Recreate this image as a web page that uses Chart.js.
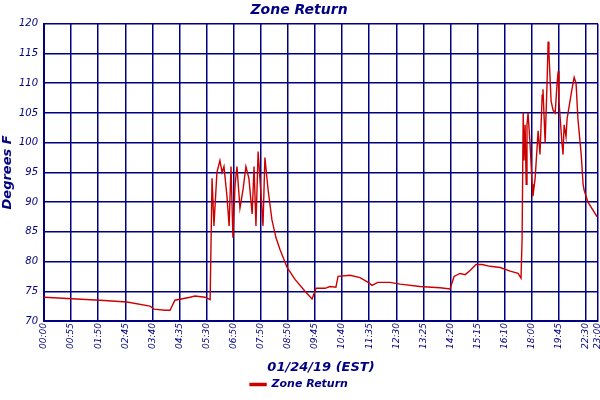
<!DOCTYPE html>
<html><head><meta charset="utf-8">
<script src="https://cdn.jsdelivr.net/npm/chart.js@4/dist/chart.umd.min.js"></script>
<style>body{margin:0;background:#fff}#w{width:600px;height:400px}</style>
</head><body><div id="w"><canvas id="c"></canvas></div>
<script>
const tickLabels=["00:00","00:55","01:50","02:45","03:40","04:35","05:30","06:50","07:50","08:50","09:45","10:40","11:35","12:30","13:25","14:20","15:15","16:10","18:00","19:45","22:30","23:00"];
const tickPos=[0,1,2,3,4,5,6,7,8,9,10,11,12,13,14,15,16,17,18,19,20,20.44];
const xs=[0,2.07,3.06,3.91,4.06,4.46,4.65,4.83,5.39,5.57,5.94,6.13,6.16,6.20,6.27,6.38,6.49,6.57,6.64,6.75,6.83,6.90,6.97,7.05,7.12,7.23,7.34,7.45,7.56,7.68,7.75,7.82,7.90,8.01,8.08,8.15,8.27,8.41,8.56,8.71,8.97,9.26,9.63,9.89,10.04,10.37,10.55,10.77,10.85,11.29,11.66,11.96,12.10,12.32,12.77,13.14,13.87,14.61,14.98,15.13,15.35,15.54,15.72,15.94,16.16,16.46,16.83,17.20,17.49,17.60,17.64,17.68,17.71,17.75,17.79,17.82,17.86,17.93,18.01,18.04,18.12,18.19,18.23,18.30,18.38,18.41,18.49,18.56,18.60,18.63,18.71,18.78,18.86,18.93,18.97,19.00,19.11,19.15,19.19,19.26,19.30,19.37,19.48,19.56,19.63,19.70,19.82,19.89,19.93,20.07,20.41];
const ys=[74,73.5,73.2,72.5,72,71.8,71.8,73.5,74,74.2,74,73.6,73.6,94,86,95,97,95,96,91,86,96,84,93,96,89,92,96,94,88,96,86,98.5,91,86,97.5,92,87,84,82,79,77,75,73.7,75.5,75.5,75.8,75.7,77.5,77.7,77.3,76.5,76,76.5,76.5,76.2,75.8,75.6,75.4,77.5,78,77.8,78.5,79.5,79.5,79.2,79,78.4,78,77.2,84,105,97,103,93,103,105,100,93,91,94,99,102,98,108,109,100,110,117,115,107,105.5,105,110,112,107,100,98,103,101,104,106,109,111,110,104,98,93,92,90,87.5];
const navy='#000080';
const pts=xs.map((x,i)=>({x,y:ys[i]}));
new Chart(document.getElementById('c'),{type:'line',
data:{datasets:[{label:'Zone Return',data:pts,borderColor:'#cc0000',backgroundColor:'#cc0000',borderWidth:1.4,pointRadius:0,tension:0,fill:false}]},
options:{responsive:true,maintainAspectRatio:false,animation:false,
layout:{padding:{top:2,right:2,left:0,bottom:0}},
plugins:{title:{display:true,text:'Zone Return',color:navy,font:{family:'DejaVu Sans',size:14,weight:'bold',style:'italic'},padding:{top:0,bottom:5}},
legend:{position:'bottom',labels:{color:navy,boxWidth:16,boxHeight:2,font:{family:'DejaVu Sans',size:11,weight:'bold',style:'italic'},padding:4}},tooltip:{enabled:false}},
scales:{
x:{type:'linear',min:0,max:20.44,afterBuildTicks:s=>{s.ticks=tickPos.map(v=>({value:v}));},
afterFit:s=>{s.height=54;s.paddingLeft=0;s.paddingRight=0;},
ticks:{autoSkip:false,maxRotation:90,minRotation:90,color:navy,font:{family:'DejaVu Sans',size:9,style:'italic'},padding:2,callback:(v,i)=>tickLabels[i]},
grid:{color:navy,lineWidth:1.5,drawTicks:false},border:{color:navy,width:2},
title:{display:true,text:'01/24/19 (EST)',color:navy,font:{family:'DejaVu Sans',size:13,weight:'bold',style:'italic'},padding:{top:2,bottom:0}}},
y:{min:70,max:120,afterFit:s=>{s.width=44;s.paddingTop=0;s.paddingBottom=0;},
ticks:{stepSize:5,color:navy,font:{family:'DejaVu Sans',size:10,style:'italic'},padding:6},
grid:{color:navy,lineWidth:1.5,drawTicks:false},border:{color:navy,width:2},
title:{display:true,text:'Degrees F',color:navy,font:{family:'DejaVu Sans',size:13,weight:'bold',style:'italic'},padding:{top:0,bottom:2}}}}}});
</script></body></html>
